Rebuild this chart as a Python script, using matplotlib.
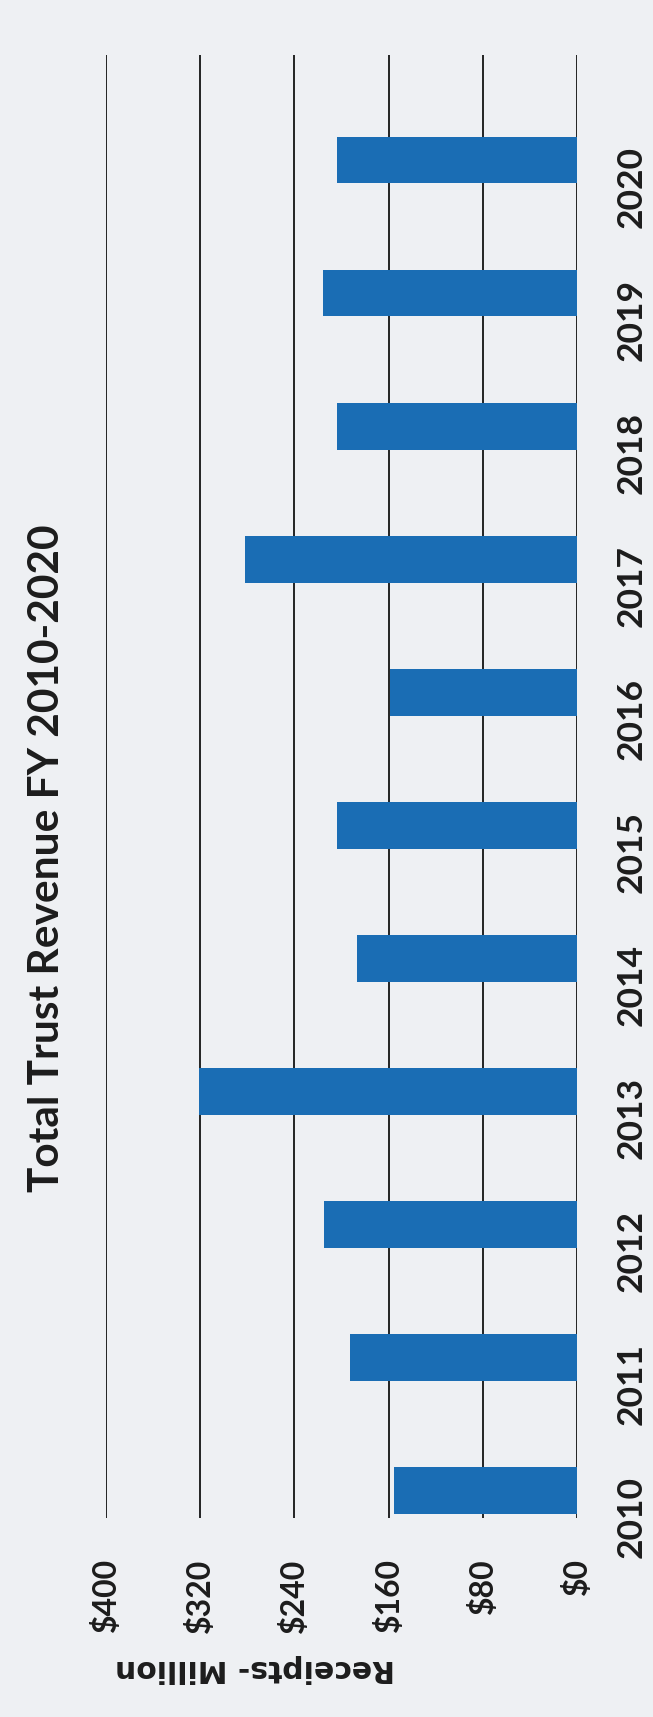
import matplotlib
matplotlib.use("Agg")
import matplotlib.pyplot as plt

# chart data ($ millions)
years = ["2010", "2011", "2012", "2013", "2014", "2015",
         "2016", "2017", "2018", "2019", "2020"]
receipts = [155, 193, 215, 321, 187, 204, 159, 282, 204, 216, 204]
tick_vals = [0, 80, 160, 240, 320, 400]
tick_labels = ["$0", "$80", "$160", "$240", "$320", "$400"]

bg = "#eef0f3"
bar_color = "#1a6db4"
txt = "#1c1c1c"

plt.rcParams['font.family'] = ['Lato', 'DejaVu Sans']

fig = plt.figure(figsize=(6.53, 17.17), dpi=100, facecolor=bg)
# the whole chart is turned 90 degrees: bars grow to the left
ax = fig.add_axes([106/653, 199/1717, 471/653, 1463/1717])
ax.set_facecolor(bg)

pos = list(range(len(years)))
ax.barh(pos, receipts, height=0.35, color=bar_color, zorder=3)

ax.set_xlim(400, 0)
ax.set_ylim(-0.205, len(years) - 0.21)
ax.set_xticks(tick_vals)
ax.set_xticklabels(tick_labels, rotation=90, fontsize=23, fontweight='bold',
                   va='top', ha='center', color=txt)
ax.tick_params(axis='x', length=0, pad=29)

# year labels sit a bit below their bars, as in the original
ax.yaxis.tick_right()
ax.set_yticks([p - 0.2 for p in pos])
ax.set_yticklabels(years, rotation=90, fontsize=25.5, fontweight='bold',
                   va='center', color=txt)
ax.tick_params(axis='y', length=0, pad=28)

ax.grid(axis='x', color='black', linewidth=1.2, zorder=1)
ax.grid(axis='y', visible=False)
for s in ax.spines.values():
    s.set_visible(False)

fig.text(47/653, 1 - 858/1717, "Total Trust Revenue FY 2010-2020",
         rotation=90, ha='center', va='center', fontsize=30.5,
         fontweight='bold', color=txt)
fig.text(255/653, 1 - 1668/1717, "Receipts- Million", rotation=180,
         ha='center', va='center', fontsize=21.5, fontweight='bold',
         color=txt, family='DejaVu Sans')

fig.savefig("out.png", dpi=100, facecolor=bg)
